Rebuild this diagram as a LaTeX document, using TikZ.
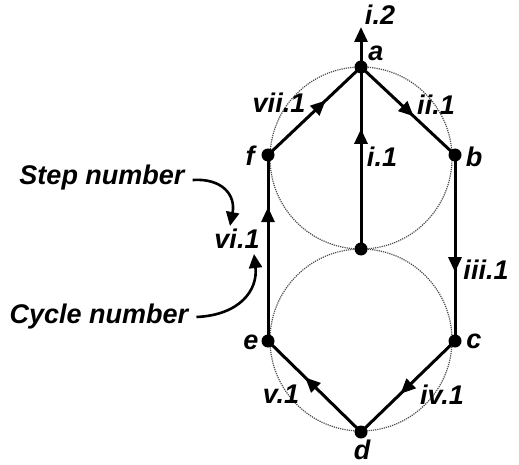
\documentclass[tikz,border=0pt]{standalone}
\usepackage{fontspec}
\setmainfont{Liberation Sans}
\usetikzlibrary{arrows.meta,decorations.markings}
\tikzset{
  lbl/.style={font=\fontsize{27}{31}\selectfont\bfseries\itshape, inner sep=0pt},
  vtx/.style={circle, fill=black, minimum size=13pt, inner sep=0pt},
  edge/.style={line width=3pt},
  tri/.style={-{Triangle[length=15pt,width=13pt]}},
  midarrow/.style={postaction={decorate, decoration={markings, mark=at position #1 with {\arrow{Triangle[length=15pt,width=13pt]}}}}},
  guide/.style={densely dotted, line width=1.2pt, black!70},
  curvy/.style={line width=2.6pt, -{Triangle[length=14pt,width=13pt]}}
}
\begin{document}
\begin{tikzpicture}[x=1pt,y=-1pt]
\useasboundingbox (0,0) rectangle (519,465);
% circles
\draw[guide] (361,158) circle[radius=91];
\draw[guide] (361,340) circle[radius=91];
% vertices
\node[vtx] (a) at (361,67) {};
\node[vtx] (f) at (268,155) {};
\node[vtx] (b) at (455,155) {};
\node[vtx] (m) at (361,249) {};
\node[vtx] (e) at (268,341) {};
\node[vtx] (c) at (455,341) {};
\node[vtx] (d) at (361,432) {};
\coordinate (top) at (361,27);
% edges
\draw[edge, midarrow=0.62] (f.center) -- (a.center);
\draw[edge, midarrow=0.56] (a.center) -- (b.center);
\draw[edge, midarrow=0.66] (m.center) -- (a.center);
\draw[edge, midarrow=0.63] (b.center) -- (c.center);
\draw[edge, midarrow=0.72] (e.center) -- (f.center);
\draw[edge, midarrow=0.6] (d.center) -- (e.center);
\draw[edge, midarrow=0.58] (c.center) -- (d.center);
\draw[edge, tri] (a.center) -- (top);
% labels
\node[lbl] (la) at (376,53) {a};
\node[lbl] (lb) at (474,157) {b};
\node[lbl] (lf) at (250,156) {f};
\node[lbl] (le) at (251,342) {e};
\node[lbl] (lc) at (474,341) {c};
\node[lbl] (ld) at (362,450) {d};
\node[lbl] (li2) at (380,15) {i.2};
\node[lbl] (lvii) at (279,103) {vii.1};
\node[lbl] (lii) at (436,105) {ii.1};
\node[lbl] (li1) at (382,157) {i.1};
\node[lbl] (liii) at (486,270) {iii.1};
\node[lbl] (lvi) at (237,239) {vi.1};
\node[lbl] (lv) at (281,394) {v.1};
\node[lbl] (liv) at (442,395) {iv.1};
\node[lbl] (step) at (102,178) {Step number};
\node[lbl] (cycle) at (99,317) {Cycle number};
% annotation arrows
\coordinate (s1) at (230,226);
\coordinate (c1) at (254,254);
\draw[curvy] (step.east) ++(8,2) .. controls (222,178) and (236,195) .. (s1);
\draw[curvy] (cycle.east) ++(8,0) .. controls (240,315) and (258,290) .. (c1);
\end{tikzpicture}
\end{document}
